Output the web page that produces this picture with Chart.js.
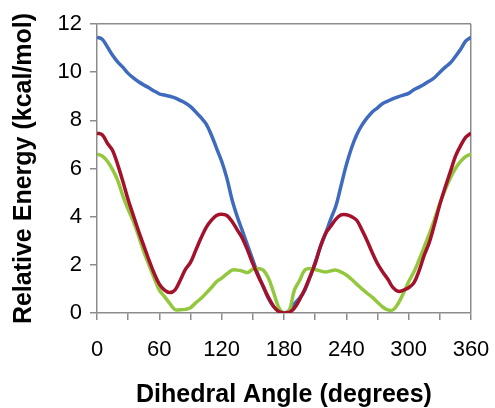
<!DOCTYPE html>
<html>
<head>
<meta charset="utf-8">
<script src="https://cdn.jsdelivr.net/npm/chart.js@4.4.1/dist/chart.umd.min.js"></script>
<style>
  html, body { margin: 0; padding: 0; background: #fff; }
  #myChart { display: block; }
</style>
</head>
<body>
<canvas id="myChart" width="495" height="408"></canvas>
<script>
// dihedral angles, 5 degree steps
const angles = [
    0, 5, 10, 15, 20, 25, 30, 35, 40, 45, 50, 55, 60, 65, 70, 75, 80, 85, 90,
    95, 100, 105, 110, 115, 120, 125, 130, 135, 140, 145, 150, 155, 160, 165, 170, 175, 180,
    185, 190, 195, 200, 205, 210, 215, 220, 225, 230, 235, 240, 245, 250, 255, 260, 265, 270,
    275, 280, 285, 290, 295, 300, 305, 310, 315, 320, 325, 330, 335, 340, 345, 350, 355, 360
];

const blueEnergy = [
    11.45, 11.37, 11.05, 10.7, 10.42, 10.2, 9.95, 9.76, 9.6, 9.47, 9.35, 9.22, 9.1, 9.05, 9.0, 8.93, 8.83, 8.72, 8.57,
    8.35, 8.12, 7.85, 7.4, 6.85, 6.3, 5.6, 4.7, 4.0, 3.4, 2.8, 2.2, 1.6, 1.1, 0.6, 0.27, 0.08, 0,
    0.1, 0.38, 0.62, 0.95, 1.5, 2.1, 2.75, 3.3, 3.9, 4.45, 5.3, 6.15, 6.85, 7.4, 7.8, 8.1, 8.35, 8.52,
    8.7, 8.8, 8.9, 8.98, 9.05, 9.12, 9.27, 9.38, 9.5, 9.63, 9.78, 10.0, 10.2, 10.38, 10.65, 10.95, 11.3, 11.45
];

const redEnergy = [
    7.47, 7.4, 7.05, 6.75, 6.15, 5.45, 4.7, 4.05, 3.4, 2.8, 2.2, 1.65, 1.2, 0.95, 0.85, 0.95, 1.35, 1.8, 2.1,
    2.6, 3.1, 3.55, 3.85, 4.05, 4.1, 4.05, 3.8, 3.45, 3.1, 2.6, 2.05, 1.55, 1.1, 0.65, 0.27, 0.06, 0,
    0.02, 0.2, 0.55, 0.98, 1.5, 2.05, 2.75, 3.3, 3.6, 3.9, 4.07, 4.08, 4.0, 3.85, 3.45, 3.0, 2.5, 2.05,
    1.7, 1.4, 1.05, 0.9, 0.95, 1.05, 1.25, 1.75, 2.4, 2.95, 3.7, 4.5, 5.2, 5.85, 6.5, 6.95, 7.3, 7.47
];

const greenEnergy = [
    6.6, 6.52, 6.3, 5.95, 5.5, 4.85, 4.3, 3.8, 3.2, 2.55, 2.0, 1.45, 0.95, 0.68, 0.4, 0.14, 0.13, 0.15, 0.22,
    0.42, 0.6, 0.82, 1.05, 1.3, 1.45, 1.62, 1.78, 1.78, 1.74, 1.68, 1.82, 1.85, 1.78, 1.45, 0.85, 0.22, 0,
    0.1, 0.95, 1.35, 1.78, 1.85, 1.8, 1.75, 1.7, 1.75, 1.78, 1.7, 1.58, 1.4, 1.2, 1.0, 0.82, 0.65, 0.45,
    0.25, 0.13, 0.13, 0.4, 0.83, 1.3, 1.7, 2.2, 2.75, 3.3, 3.9, 4.55, 5.1, 5.6, 6.0, 6.3, 6.5, 6.6
];

const xLabelStep = 60;
const xTitle = 'Dihedral Angle (degrees)';
const yTitle = 'Relative Energy (kcal/mol)';

const frameColor = '#8c8c8c';

function toPoints(values) {
    return values.map((v, i) => ({ x: angles[i], y: v }));
}

function lineSet(values, color) {
    return {
        data: toPoints(values),
        borderColor: color,
        borderWidth: 3.5,
        pointRadius: 0,
        tension: 0.35,
        fill: false
    };
}

const ctx = document.getElementById('myChart').getContext('2d');

const energyChart = new Chart(ctx, {
    type: 'line',
    data: {
        // first dataset is drawn on top
        datasets: [
            lineSet(redEnergy, '#a3112b'),
            lineSet(greenEnergy, '#93c83e'),
            lineSet(blueEnergy, '#3f6bbe')
        ]
    },
    options: {
        responsive: false,
        animation: false,
        layout: {
            padding: { left: 0, right: 24, top: 24, bottom: 0 }
        },
        plugins: {
            legend: { display: false },
            tooltip: { enabled: false }
        },
        scales: {
            x: {
                type: 'linear',
                min: 0,
                max: 360,
                border: { color: frameColor, width: 1.5 },
                grid: {
                    // only the right edge of the frame
                    color: (c) => (c.tick && c.tick.value === 360 ? frameColor : 'rgba(0,0,0,0)'),
                    lineWidth: 1.5,
                    tickColor: frameColor,
                    tickLength: 7
                },
                ticks: {
                    stepSize: 30,
                    padding: 17,
                    maxRotation: 0,
                    autoSkip: false,
                    color: '#000',
                    font: { family: '"Liberation Sans", Arial, sans-serif', size: 22 },
                    callback: (v) => (v % xLabelStep === 0 ? v : '')
                },
                title: {
                    display: true,
                    text: xTitle,
                    color: '#000',
                    padding: { top: 0, bottom: 0 },
                    font: { family: '"Liberation Sans", Arial, sans-serif', size: 25, weight: 'bold', lineHeight: 1.0 }
                },
                afterFit: (scale) => {
                    scale.height = 95;
                    scale.paddingLeft = 0;
                    scale.paddingRight = 0;
                }
            },
            y: {
                min: 0,
                max: 12,
                border: { color: frameColor, width: 1.5 },
                grid: {
                    // only the top edge of the frame
                    color: (c) => (c.tick && c.tick.value === 12 ? frameColor : 'rgba(0,0,0,0)'),
                    lineWidth: 1.5,
                    tickColor: frameColor,
                    tickLength: 7
                },
                ticks: {
                    stepSize: 2,
                    padding: 8,
                    color: '#000',
                    font: { family: '"Liberation Sans", Arial, sans-serif', size: 22 }
                },
                title: {
                    display: true,
                    text: yTitle,
                    color: '#000',
                    padding: { top: 10, bottom: 0 },
                    font: { family: '"Liberation Sans", Arial, sans-serif', size: 25, weight: 'bold', lineHeight: 1.1 }
                },
                afterFit: (scale) => {
                    scale.width = 97;
                    scale.paddingTop = 0;
                    scale.paddingBottom = 0;
                }
            }
        }
    }
});
</script>
</body>
</html>
